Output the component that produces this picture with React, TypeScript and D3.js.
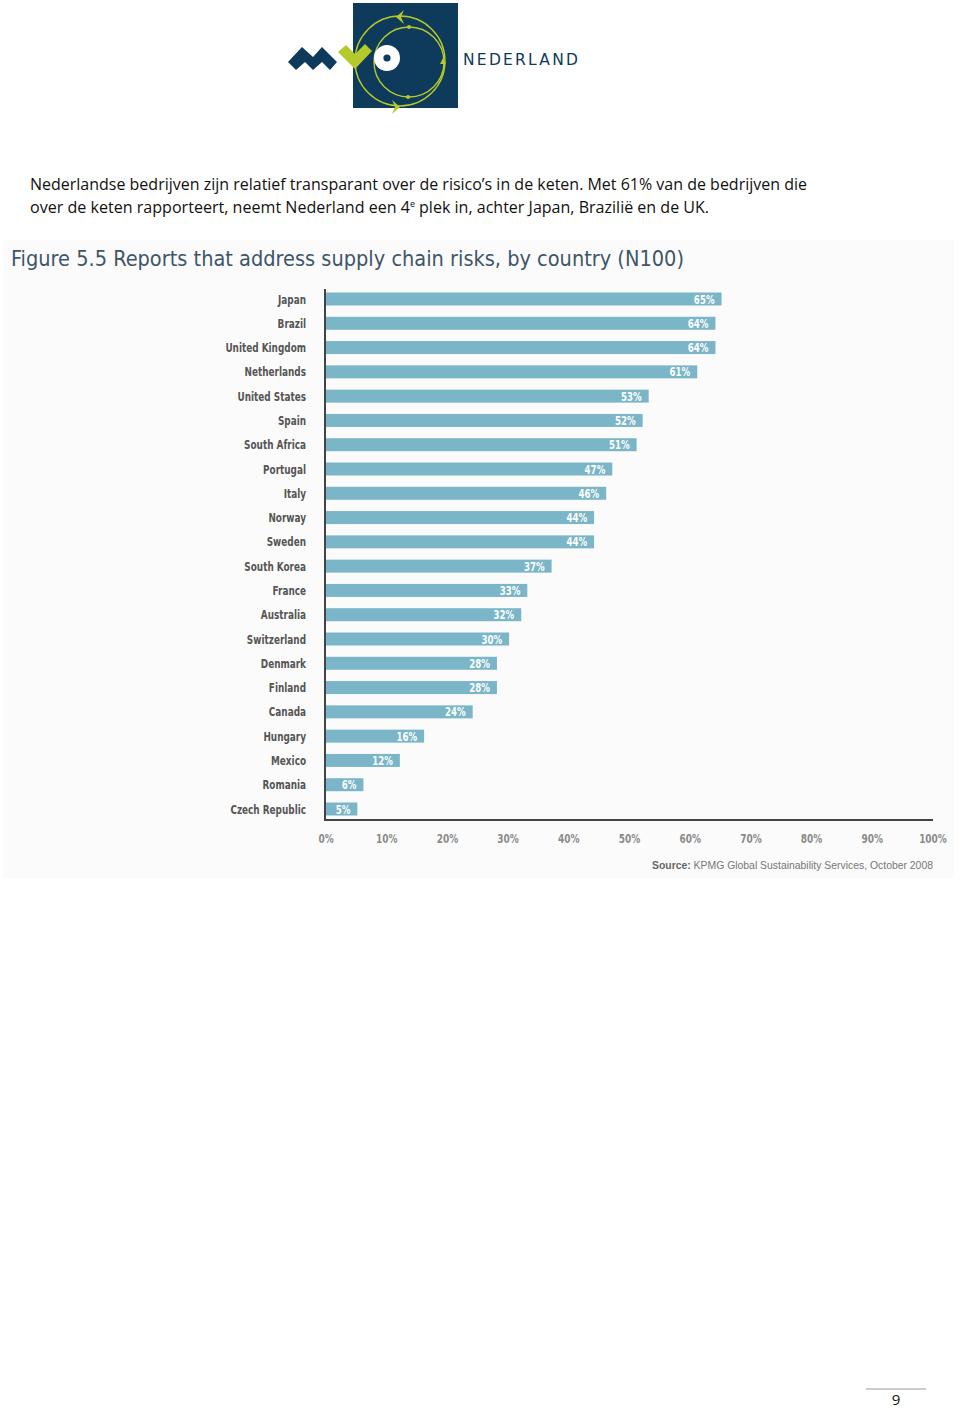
import React from "react";
import * as d3 from "d3";

const countries = [
  "Japan", "Brazil", "United Kingdom", "Netherlands", "United States", "Spain",
  "South Africa", "Portugal", "Italy", "Norway", "Sweden", "South Korea",
  "France", "Australia", "Switzerland", "Denmark", "Finland", "Canada",
  "Hungary", "Mexico", "Romania", "Czech Republic",
];
const values = [65, 64, 64, 61, 53, 52, 51, 47, 46, 44, 44, 37, 33, 32, 30, 28, 28, 24, 16, 12, 6, 5];
const xTicks = [0, 10, 20, 30, 40, 50, 60, 70, 80, 90, 100];

const introLine1 = "Nederlandse bedrijven zijn relatief transparant over de risico\u2019s in de keten. Met 61% van de bedrijven die";
const introLine2a = "over de keten rapporteert, neemt Nederland een 4";
const introLine2b = "plek in, achter Japan, Brazili\u00eb en de UK.";
const title = "Figure 5.5 Reports that address supply chain risks, by country (N100)";

const cond = "'DejaVu Sans Condensed', 'DejaVu Sans', sans-serif";
const navy = "#0e3a5b";
const lime = "#b6c92b";

// condensed bold text, squeezed horizontally around its anchor
const NText = ({ x, y, anchor, size, fill, children, sx = 0.8 }: any) => (
  <text transform={`translate(${x},${y}) scale(${sx},1)`} textAnchor={anchor} fontFamily={cond}
    fontWeight="bold" fontSize={size} fill={fill}>{children}</text>
);

const Logo = () => (
  <g>
    <path d="M288,62 L302,47 L313,57 L322,47 L337,62 L330,70 L322,62 L313,70 L305,62 L296,70 Z" fill={navy} />
    <rect x={353} y={3} width={105} height={105} fill={navy} />
    <path d="M338,52 L346,45 L355,54 L365,44 L372,51 L355,69 Z" fill={lime} />
    <circle cx={400} cy={61} r={45} fill="none" stroke={lime} strokeWidth={1.4} />
    <circle cx={409} cy={62} r={35} fill="none" stroke={lime} strokeWidth={1.4} />
    <circle cx={387} cy={58} r={13} fill="#fff" />
    <circle cx={387} cy={58} r={3.6} fill={navy} />
    <circle cx={409} cy={27} r={2} fill={lime} />
    <circle cx={408} cy={97} r={2} fill={lime} />
    <path d="M440,64 L443,58 L446,64 Z" fill={lime} />
    <path d="M404,10 L396,17 L404,24 L401,17 Z" fill={lime} />
    <path d="M392,100 L400,107 L392,114 L395,107 Z" fill={lime} />
    <text x={463} y={65} fill={navy} fontFamily="'DejaVu Sans', sans-serif" fontSize={15.5}
      textLength={115} lengthAdjust="spacing">NEDERLAND</text>
  </g>
);

export default function App() {
  const x = d3.scaleLinear().domain([0, 100]).range([326, 933]);
  const y = d3.scalePoint<string>().domain(countries).range([299, 809]);
  const barH = 13;
  const body = "'Open Sans', 'Liberation Sans', sans-serif";

  return (
    <svg width={960} height={1410} style={{ position: "absolute", left: 0, top: 0, background: "#fff" }}>
      <Logo />

      <text x={30} y={190} fontFamily={body} fontSize={15.5} fill="#111"
        textLength={777} lengthAdjust="spacingAndGlyphs">{introLine1}</text>
      <text x={30} y={213} fontFamily={body} fontSize={15.5} fill="#111">
        <tspan textLength={380} lengthAdjust="spacingAndGlyphs">{introLine2a}</tspan>
        <tspan dy={-6} fontSize={9}>e</tspan>
        <tspan dy={6} dx={4} textLength={290} lengthAdjust="spacingAndGlyphs">{introLine2b}</tspan>
      </text>

      <rect x={3} y={240} width={951} height={638} fill="#fbfbfb" />
      <text x={11} y={266} fontFamily={cond} fontSize={22} fill="#3f5568"
        textLength={673} lengthAdjust="spacingAndGlyphs">{title}</text>

      {countries.map((c, i) => {
        const cy = y(c)!;
        return (
          <g key={c}>
            <rect x={x(0)} y={cy - barH / 2} width={x(values[i]) - x(0) + 1} height={barH} fill="#7ab6c8" />
            <NText x={x(values[i]) - 6} y={cy + 4.5} anchor="end" size={12} fill="#fff">{values[i]}%</NText>
            <NText x={306} y={cy + 4.5} anchor="end" size={13} fill="#555" sx={0.76}>{c}</NText>
          </g>
        );
      })}

      <line x1={325} x2={325} y1={289} y2={821} stroke="#444" strokeWidth={2} />
      <line x1={324} x2={933} y1={820} y2={820} stroke="#444" strokeWidth={2} />

      {xTicks.map((t) => (
        <NText key={t} x={x(t)} y={843} anchor="middle" size={12.5} fill="#8a8a8a">{t}%</NText>
      ))}

      <text x={933} y={869} textAnchor="end" fontFamily="'Liberation Sans', sans-serif" fontSize={11} fill="#777"
        textLength={281} lengthAdjust="spacingAndGlyphs">
        <tspan fontWeight="bold" fill="#666">Source: </tspan>KPMG Global Sustainability Services, October 2008
      </text>

      <line x1={866} x2={926} y1={1389} y2={1389} stroke="#999" strokeWidth={1} />
      <text x={896} y={1405} textAnchor="middle" fontFamily={body} fontSize={15} fill="#111">9</text>
    </svg>
  );
}
